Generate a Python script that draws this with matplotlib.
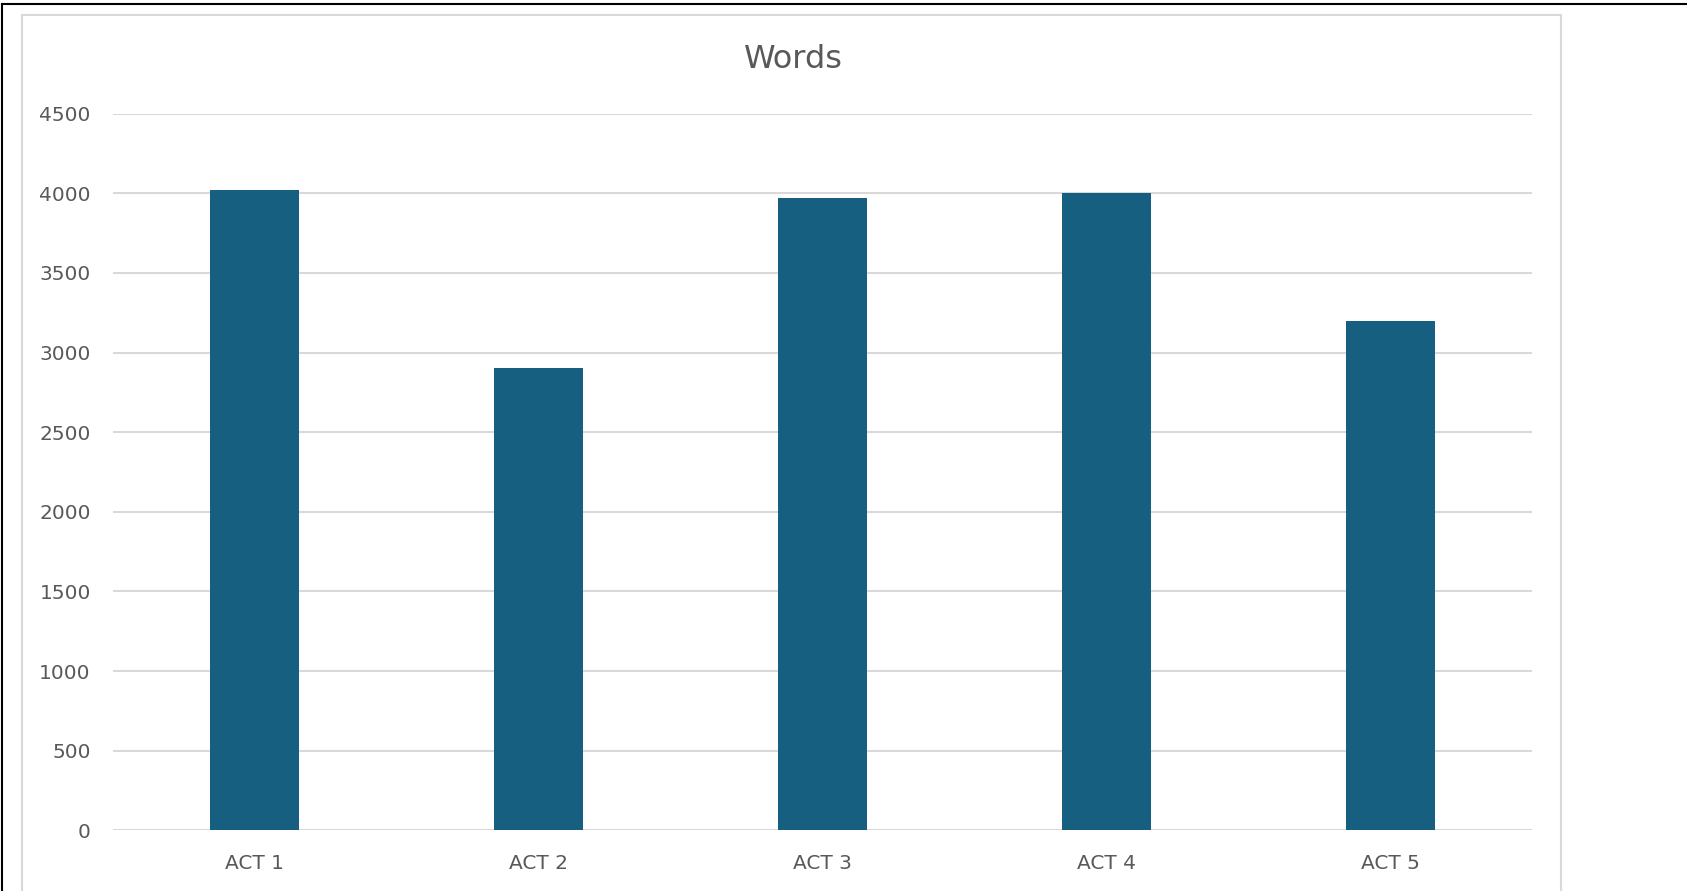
import matplotlib.pyplot as plt
from matplotlib.lines import Line2D
from matplotlib.patches import Rectangle

# === Data ===
acts = ["ACT 1", "ACT 2", "ACT 3", "ACT 4", "ACT 5"]
words = [4020, 2905, 3970, 4003, 3200]
y_ticks = [0, 500, 1000, 1500, 2000, 2500, 3000, 3500, 4000, 4500]

BAR = "#175f80"
GRID = "#d9d9d9"
TEXT = "#595959"

plt.rcParams['font.family'] = ['DejaVu Sans']

W, H = 1687, 891
fig = plt.figure(figsize=(W / 100, H / 100), dpi=100)

# outer black frame (top and left edges visible)
fig.add_artist(Line2D([1.5 / W, 1], [1 - 4 / H, 1 - 4 / H], color="black", lw=1.5))
fig.add_artist(Line2D([1.5 / W, 1.5 / W], [0, 1 - 4 / H], color="black", lw=1.5))

# chart area border
fig.add_artist(Rectangle((22 / W, -0.1), (1561 - 22) / W, 1.1 - 15 / H,
                         transform=fig.transFigure, fill=False,
                         edgecolor=GRID, lw=1.5))

ax = fig.add_axes([113 / W, 1 - 830.3 / H, (1532 - 113) / W, (830.3 - 113.7) / H])
ax.bar(range(len(acts)), words, width=0.313, color=BAR, zorder=3)

ax.set_xlim(-0.5, len(acts) - 0.5)
ax.set_ylim(0, 4500)
ax.set_yticks(y_ticks)
ax.set_xticks(range(len(acts)))
ax.set_xticklabels(acts)
ax.grid(axis="y", color=GRID, lw=1.5, zorder=0)
ax.set_axisbelow(True)
for s in ax.spines.values():
    s.set_visible(False)
ax.tick_params(axis="both", length=0, labelsize=14.5, labelcolor=TEXT)
ax.tick_params(axis="y", pad=16)
ax.tick_params(axis="x", pad=17)

fig.text(793 / W, 1 - 59 / H, "Words", ha="center", va="center",
         fontsize=23, color=TEXT)

fig.savefig("out.png", dpi=100)
